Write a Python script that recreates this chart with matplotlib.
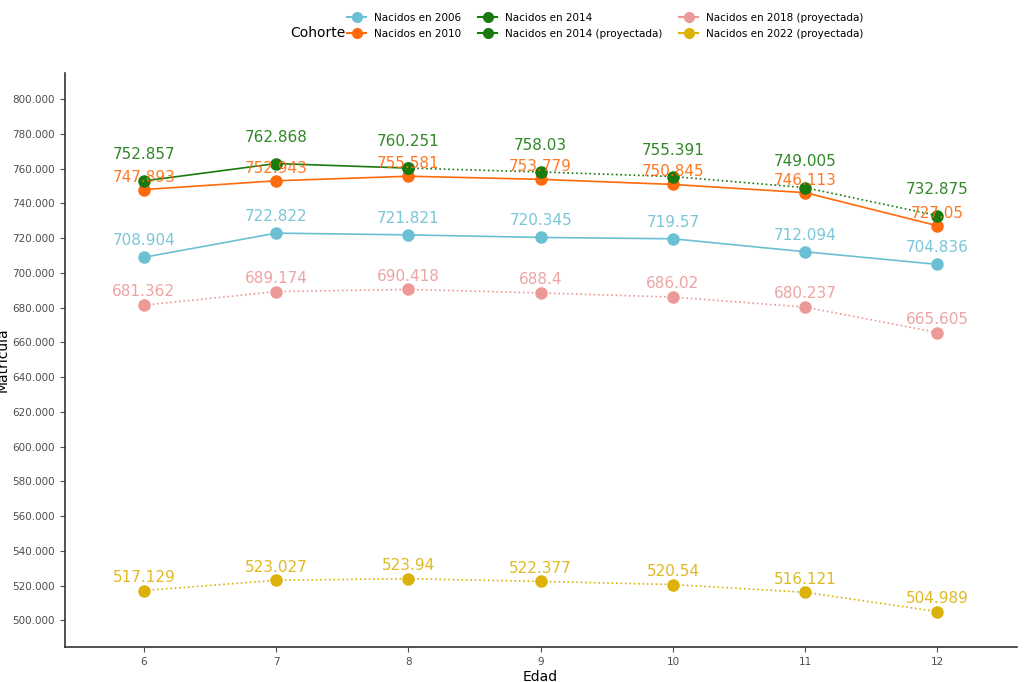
import matplotlib
matplotlib.use("Agg")
import matplotlib.pyplot as plt
from matplotlib.lines import Line2D

EDAD = [6, 7, 8, 9, 10, 11, 12]
N2006 = [708904, 722822, 721821, 720345, 719570, 712094, 704836]
N2010 = [747893, 752943, 755581, 753779, 750845, 746113, 727050]
N2014_EDAD = [6, 7, 8]
N2014 = [752857, 762868, 760251]
N2014P_EDAD = [8, 9, 10, 11, 12]
N2014P = [760251, 758030, 755391, 749005, 732875]
N2018P = [681362, 689174, 690418, 688400, 686020, 680237, 665605]
N2022P = [517129, 523027, 523940, 522377, 520540, 516121, 504989]

C06, C10, C14, C18, C22 = "#6cc0d4", "#ff6a0c", "#197a10", "#eb9a98", "#dcb20a"


def fmt(v):
    return f"{v / 1000:.3f}".rstrip("0").rstrip(".")


fig = plt.figure(figsize=(10.24, 6.82), dpi=100)
ax = fig.add_axes([0.063, 0.051, 0.93, 0.842])

# (x, y, colour, linestyle, label nudge in points, skip first label)
series = [
    (EDAD, N2006, C06, "-", 12, 0),
    (EDAD, N2010, C10, "-", 9, 0),
    (N2014_EDAD, N2014, C14, "-", 19, 0),
    (N2014P_EDAD, N2014P, C14, ":", 19, 1),
    (EDAD, N2018P, C18, ":", 9.5, 0),
    (EDAD, N2022P, C22, ":", 9.5, 0),
]
for xs, ys, c, ls, _, _ in series:
    ax.plot(xs, ys, color=c, ls=ls, lw=1.2, marker="o", ms=8, zorder=3)
for xs, ys, c, ls, dy, start in series:
    for x, y in list(zip(xs, ys))[start:]:
        ax.annotate(fmt(y), (x, y), xytext=(0, dy), textcoords="offset points",
                    ha="center", va="center", fontsize=11, color=c, alpha=.9)

ax.set_xlim(5.4, 12.6)
ax.set_ylim(484500, 815000)
ax.set_xticks(EDAD)
yt = list(range(500000, 800001, 20000))
ax.set_yticks(yt)
ax.set_yticklabels([f"{v // 1000}.000" for v in yt])
ax.tick_params(labelsize=7.5, colors="#4d4d4d", labelcolor="#4d4d4d")
for s in ("top", "right"):
    ax.spines[s].set_visible(False)
for s in ("left", "bottom"):
    ax.spines[s].set_color("#333333")
    ax.spines[s].set_linewidth(1.2)
ax.set_xlabel("Edad", fontsize=10, labelpad=2)
ax.set_ylabel("Matrícula", fontsize=10, labelpad=2)

handles = [
    Line2D([], [], color=C06, marker="o", ms=7, label="Nacidos en 2006"),
    Line2D([], [], color=C10, marker="o", ms=7, label="Nacidos en 2010"),
    Line2D([], [], color=C14, marker="o", ms=7, label="Nacidos en 2014"),
    Line2D([], [], color=C14, marker="o", ms=7, label="Nacidos en 2014 (proyectada)"),
    Line2D([], [], color=C18, marker="o", ms=7, label="Nacidos en 2018 (proyectada)"),
    Line2D([], [], color=C22, marker="o", ms=7, label="Nacidos en 2022 (proyectada)"),
]
fig.legend(handles=handles, ncol=3, loc="upper left", bbox_to_anchor=(0.33, 0.995),
           frameon=False, fontsize=7.5, handlelength=1.8, columnspacing=1.6,
           labelspacing=0.6)
fig.text(0.283, 0.952, "Cohorte", fontsize=10, va="center")
fig.savefig("out.png", dpi=100)
